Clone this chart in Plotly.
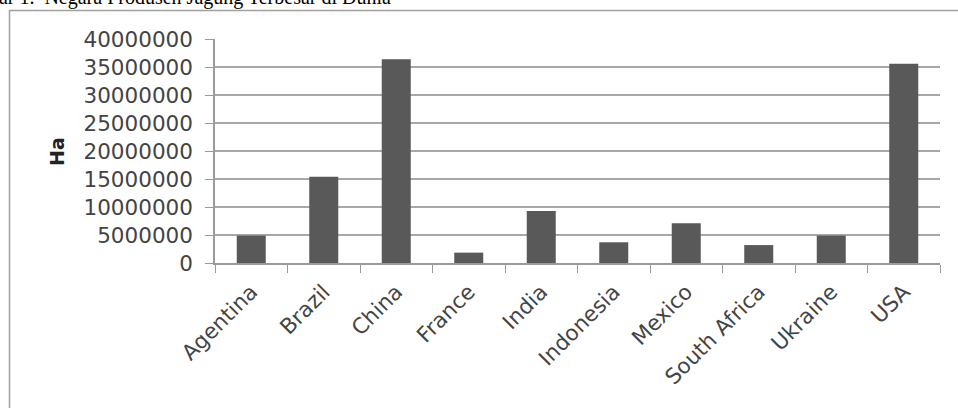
import plotly.graph_objects as go

countries = ["Agentina", "Brazil", "China", "France", "India", "Indonesia",
             "Mexico", "South Africa", "Ukraine", "USA"]
area_ha = [4900000, 15400000, 36400000, 1850000, 9300000, 3700000,
           7100000, 3200000, 4900000, 35600000]
y_ticks = [0, 5000000, 10000000, 15000000, 20000000, 25000000,
           30000000, 35000000, 40000000]
title_text = "Gambar 1.  Negara Produsen Jagung Terbesar di Dunia"
y_title = "Ha"

W, H = 958, 408
L, R, T, B = 215, 18, 39, 145
pw, ph = W - L - R, H - T - B

def px_x(px):
    return (px - L) / pw

def px_y(py):
    return (H - B - py) / ph

fig = go.Figure(go.Bar(x=countries, y=area_ha, marker_color="#595959",
                       marker_line_width=0))

tick_font = dict(family="DejaVu Sans", size=21.5, color="#444444")

fig.update_layout(
    width=W, height=H,
    margin=dict(l=L, r=R, t=T, b=B, autoexpand=False),
    paper_bgcolor="white", plot_bgcolor="white",
    bargap=0.6,
    showlegend=False,
    xaxis=dict(type="category", tickson="boundaries", ticks="outside",
               ticklen=8, tickcolor="#9a9a9a", tickwidth=1,
               showline=True, linecolor="#9a9a9a", linewidth=1.5,
               showgrid=False, tickangle=-45, tickfont=tick_font,
               ticklabelstandoff=6),
    yaxis=dict(range=[0, 40000000], tickvals=y_ticks, tickformat="d",
               ticks="outside", ticklen=8, tickcolor="#9a9a9a",
               showline=True, linecolor="#9a9a9a", linewidth=1.5,
               showgrid=True, gridcolor="#a8a8a8", gridwidth=1.5,
               zeroline=False, tickfont=tick_font, ticklabelstandoff=8),
    shapes=[dict(type="rect", xref="paper", yref="paper",
                 x0=px_x(9.5), x1=px_x(962), y0=px_y(412), y1=px_y(10.5),
                 line=dict(color="#a0a0a0", width=1.5), layer="below")],
    annotations=[
        dict(text=title_text, xref="paper", yref="paper",
             x=px_x(393), y=px_y(-3), xanchor="right", yanchor="middle",
             showarrow=False,
             font=dict(family="Liberation Serif", size=20, color="black")),
        dict(text="<b>" + y_title + "</b>", xref="paper", yref="paper",
             x=px_x(57), y=px_y(152), xanchor="center", yanchor="middle",
             textangle=-90, showarrow=False,
             font=dict(family="DejaVu Sans", size=19, color="#222222")),
    ],
)

fig.write_html("out.html")
